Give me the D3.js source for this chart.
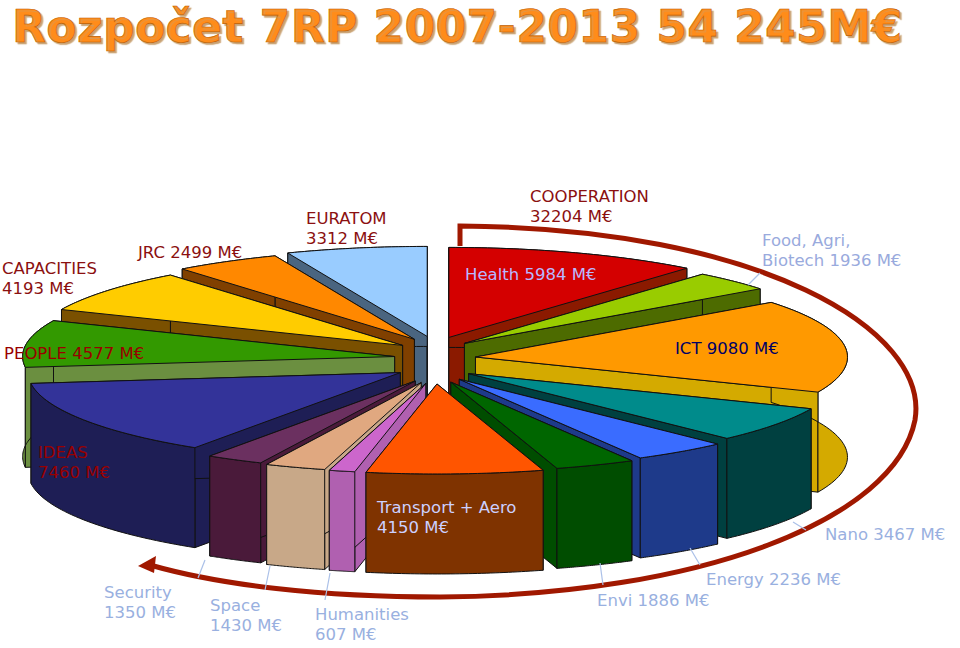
<!DOCTYPE html>
<html><head><meta charset="utf-8">
<script src="https://cdn.jsdelivr.net/npm/d3@7"></script>
<style>body{margin:0;background:#fff}svg{display:block}</style>
</head><body>
<script>
const categories=["Health","Food","ICT","Nano","Energy","Envi","Transport","Humanities","Space","Security","IDEAS","PEOPLE","CAPACITIES","JRC","EURATOM"];
const values=[5984,1936,9080,3467,2236,1886,4150,607,1430,1350,7460,4577,4193,2499,3312];
const topColors=["#d40000","#99cc00","#ff9900","#008b8b","#3a6cff","#006600","#ff5500","#cc66cc","#e0a880","#6b3060","#333399","#339900","#ffcc00","#ff8800","#99ccff"];
const sideColors=["#8b1a00","#4d6b00","#d4aa00","#004040","#1e3a8a","#004d00","#7f3300","#b060b0","#c8a888","#4a1a3a","#1e1e55","#6b8f40","#7a5000","#804000","#4a6580"];
const labels=[
 {t:["COOPERATION","32204   M€"],x:530,y:202,c:"#8b1010"},
 {t:["Health 5984 M€"],x:465,y:280,c:"#b8b8ff"},
 {t:["Food, Agri,","Biotech 1936 M€"],x:762,y:246,c:"#99aadd"},
 {t:["ICT 9080 M€"],x:675,y:354,c:"#000066"},
 {t:["Nano 3467 M€"],x:825,y:540,c:"#99b0e0"},
 {t:["Energy 2236 M€"],x:706,y:585,c:"#99b0e0"},
 {t:["Envi 1886 M€"],x:597,y:606,c:"#99b0e0"},
 {t:["Transport + Aero","4150 M€"],x:377,y:513,c:"#ccd0ff"},
 {t:["Humanities","607 M€"],x:315,y:620,c:"#99b0e0"},
 {t:["Space","1430  M€"],x:210,y:611,c:"#99b0e0"},
 {t:["Security","1350  M€"],x:104,y:598,c:"#99b0e0"},
 {t:["IDEAS","7460   M€"],x:38,y:458,c:"#990000"},
 {t:["PEOPLE 4577   M€"],x:4,y:359,c:"#990000"},
 {t:["CAPACITIES","4193  M€"],x:2,y:274,c:"#8b1010"},
 {t:["JRC 2499  M€"],x:138,y:258,c:"#8b1010"},
 {t:["EURATOM","3312   M€"],x:306,y:224,c:"#8b1010"}
];
const W=960,H=648;
const svg=d3.select("body").append("svg").attr("width",W).attr("height",H);
const cx=435,cy=360,rx=372,ry=90,depth=100,expl=24;
const pie=d3.pie().sort(null).value(d=>d)(values);
const px=(a,r,ox)=>ox+Math.sin(a)*r*rx;
const py=(a,r,oy)=>oy-Math.cos(a)*r*ry;
const slices=pie.map((p,i)=>{
  const m=(p.startAngle+p.endAngle)/2;
  return {i,a0:p.startAngle,a1:p.endAngle,m,ox:cx+Math.sin(m)*expl*1.7,oy:cy-Math.cos(m)*expl};
});
slices.sort((a,b)=>(-Math.cos(a.m))-(-Math.cos(b.m)));
const g=svg.append("g").attr("stroke","#111").attr("stroke-width",1).attr("stroke-linejoin","round");
slices.forEach(s=>{
  const N=40, pts=d3.range(N+1).map(k=>s.a0+(s.a1-s.a0)*k/N);
  const top=pts.map(a=>[px(a,1,s.ox),py(a,1,s.oy)]);
  const c=[s.ox,s.oy];
  const dn=p=>[p[0],p[1]+depth];
  [[c,top[0]],[c,top[N]]].forEach(([p,q])=>{
    g.append("path").attr("d",d3.line()([p,q,dn(q),dn(p)])+"Z").attr("fill",sideColors[s.i]);
  });
  g.append("path").attr("d",d3.line()(top.concat(top.slice().reverse().map(dn)))+"Z").attr("fill",sideColors[s.i]);
  g.append("path").attr("d",d3.line()([c].concat(top))+"Z").attr("fill",topColors[s.i]);
});
svg.append("path").attr("d","M460,246 L460,226 C760,228 930,330 915,420 C 895,520 700,595 440,597 C 320,597 220,585 150,565")
 .attr("fill","none").attr("stroke","#a01800").attr("stroke-width",5);
svg.append("path").attr("d","M138,566 L156,556 L154,573 Z").attr("fill","#a01800");
const ptrs=[[748,285,760,273],[793,522,806,530],[690,548,700,565],[600,563,603,585],[330,573,325,600],[270,566,265,590],[205,560,198,578]];
svg.selectAll(".ptr").data(ptrs).join("line").attr("x1",d=>d[0]).attr("y1",d=>d[1]).attr("x2",d=>d[2]).attr("y2",d=>d[3]).attr("stroke","#aac0e8").attr("stroke-width",1.2);
const font="'DejaVu Sans', sans-serif";
labels.forEach(l=>{
  const t=svg.append("text").attr("x",l.x).attr("y",l.y).attr("fill",l.c).attr("font-family",font).attr("font-size",16.5);
  l.t.forEach((s,k)=>t.append("tspan").attr("x",l.x).attr("dy",k?20:0).text(s));
});
svg.append("text").attr("x",12).attr("y",42).attr("font-family",font).attr("font-weight","bold").attr("font-size",44)
 .attr("textLength",890).attr("fill","#ff8c1a").attr("stroke","#c06000").attr("stroke-width",0.6)
 .style("text-shadow","2px 2px 1px #c8a070").text("Rozpočet 7RP 2007-2013 54 245M€");
</script>
</body></html>
